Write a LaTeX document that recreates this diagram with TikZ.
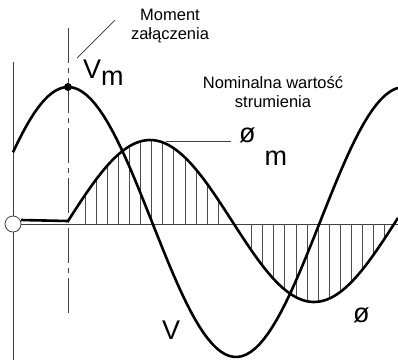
\documentclass[tikz,border=0pt]{standalone}
\usepackage{fontspec}
\setmainfont{Liberation Sans}
\usetikzlibrary{positioning,calc}

\begin{document}
\begin{tikzpicture}[
  x=1pt, y=-1pt,
  wave/.style={line width=2.6pt, line join=round},
  axis line/.style={line width=0.8pt, black!75},
  hatch/.style={line width=0.8pt, black!70},
  leader/.style={line width=0.7pt, black!80},
  caption/.style={inner sep=0pt, align=center, font=\fontsize{16.5}{19}\selectfont},
  symbol/.style={inner sep=0pt, anchor=base west, font=\fontsize{27}{27}\selectfont},
]
  \useasboundingbox (0,0) rectangle (398,360);

  % axes
  \coordinate (origin) at (13,224);
  \coordinate (axis top) at (13,62);
  \coordinate (axis bottom) at (13,360);
  \coordinate (axis end) at (398,224);
  \draw[axis line] (axis top) -- (axis bottom);
  \draw[axis line] (origin) -- (axis end);

  % switching instant
  \coordinate (switch top) at (68,28);
  \coordinate (switch bottom) at (68,318);
  \draw[axis line, dash pattern=on 35pt off 5pt on 5pt off 5pt] (switch top) -- (switch bottom);

  % hatching under the flux
  \foreach \k in {0,...,12}
    \draw[hatch] ({85+11.1*\k},224) -- ({85+11.1*\k},{221-81*sin((85+11.1*\k-68)/328*360)});
  \foreach \k in {15,...,27}
    \draw[hatch] ({85+11.1*\k},224) -- ({85+11.1*\k},{221-81*sin((85+11.1*\k-68)/328*360)});

  % flux
  \draw[wave] (21,220) -- (68,221)
    -- plot[domain=68:398, samples=90] (\x, {221-81*sin((\x-68)/328*360)});
  % voltage
  \draw[wave] plot[domain=13:398, samples=90] (\x, {222-135*cos((\x-68)/336*360)});

  \node[circle, draw=black!75, line width=0.8pt, fill=white, minimum size=16pt, inner sep=0pt] (ring) at (origin) {};
  \node[circle, fill, minimum size=8pt, inner sep=0pt] (peak) at (68,87) {};

  % labels
  \node[caption, anchor=base] (switch) at (170,39) {Moment\\załączenia};
  \coordinate (switch lead) at (115,20);
  \coordinate (switch tip) at (77,58);
  \draw[leader] (switch lead) -- (switch tip);

  \node[caption, anchor=base] (nominal) at (273,107) {Nominalna wartość\\strumienia};

  \node[symbol] (vm) at (83,78) {V\raisebox{-7pt}{m}};
  \node[symbol] (phim) at (239,142) {ø\hspace{9pt}\raisebox{-23pt}{m}};
  \coordinate (phim lead) at (166,141);
  \coordinate (phim tip) at (231,141);
  \draw[axis line] (phim lead) -- (phim tip);

  \node[symbol] (v) at (162,339) {V};
  \node[symbol] (phi) at (353,322) {ø};
\end{tikzpicture}
\end{document}
